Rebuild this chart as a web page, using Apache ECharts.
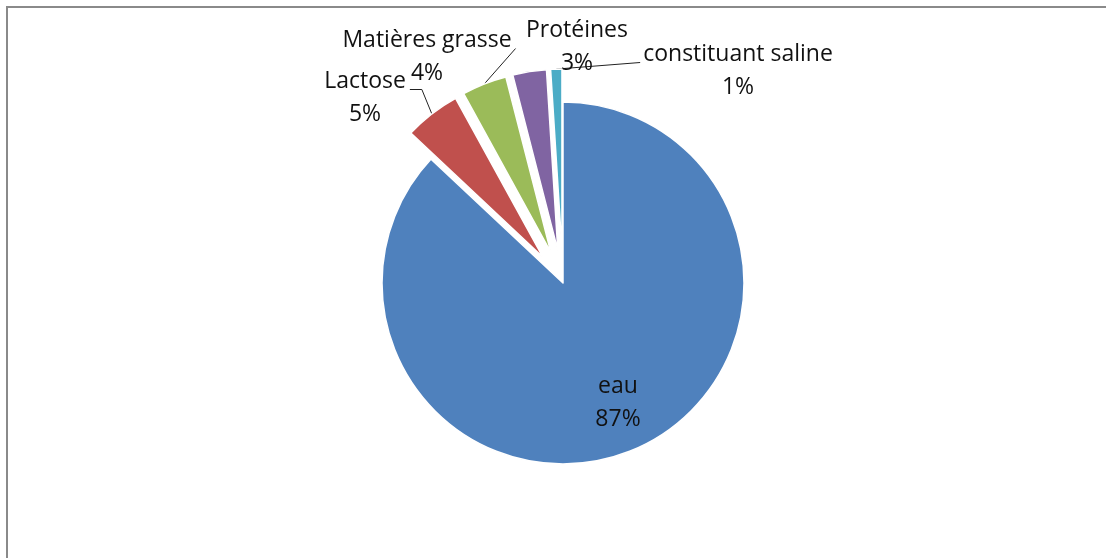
<!DOCTYPE html>
<html>
<head>
<meta charset="utf-8">
<title>Composition du lait</title>
<script src="https://cdn.jsdelivr.net/npm/echarts@6/dist/echarts.min.js"></script>
<style>
  html, body { margin: 0; padding: 0; background: #fff; }
  #chart { position: absolute; left: 0; top: 0; width: 1106px; height: 558px; }
  #frame { position: absolute; left: 6px; top: 6px; right: -10px; bottom: -10px;
           border-left: 2px solid #8a8a8a; border-top: 2px solid #8a8a8a; pointer-events: none; }
</style>
</head>
<body>
<div id="chart"></div>
<div id="frame"></div>
<script>
// Composants du lait (en %)
const categories = ['eau', 'Lactose', 'Matières grasse', 'Protéines', 'constituant saline'];
const values = [87, 5, 4, 3, 1];
const colors = ['#4F81BD', '#C0504D', '#9BBB59', '#8064A2', '#4BACC6'];
// Slices pulled out from the centre
const exploded = [false, true, true, true, true];
// Label anchor points (centre of each two-line label)
const labelSpots = [[618, 403], [365, 98], [427, 57], [577, 47], [738, 71]];
const showLeader = [false, true, true, false, true];
// Horizontal run of the leader line under the label's first line (0 = straight line)
const leaderRun = [0, 12, 0, 0, 0];

const CENTER = [563, 283];
const RADIUS = 181;
const PULL = 33;
const LINE_H = 33;

const chart = echarts.init(document.getElementById('chart'), null, { renderer: 'canvas' });

// Visible slices, small ones pulled out
const sliceData = categories.map((name, i) => ({
  name: name,
  value: values[i],
  selected: exploded[i],
  itemStyle: { color: colors[i] }
}));

// Transparent twin ring reaching the outer edge of the pulled slices; carries the labels
const labelData = categories.map((name, i) => ({
  name: name,
  value: values[i],
  labelLine: { show: showLeader[i] }
}));

chart.setOption({
  animation: false,
  series: [{
    type: 'pie',
    center: CENTER,
    radius: [0, RADIUS],
    startAngle: 90,
    clockwise: true,
    selectedMode: 'multiple',
    selectedOffset: PULL,
    data: sliceData,
    itemStyle: { borderColor: '#ffffff', borderWidth: 1.5 },
    emphasis: { scale: false },
    label: { show: false },
    labelLine: { show: false }
  }, {
    type: 'pie',
    center: CENTER,
    radius: [0, RADIUS + PULL],
    startAngle: 90,
    clockwise: true,
    silent: true,
    selectedMode: false,
    avoidLabelOverlap: false,
    data: labelData,
    itemStyle: { color: 'rgba(0,0,0,0)', borderWidth: 0 },
    emphasis: { disabled: true },
    label: {
      show: true,
      position: 'outside',
      formatter: '{b}\n{c}%',
      fontFamily: 'Open Sans',
      fontSize: 23,
      lineHeight: LINE_H,
      color: '#111',
      align: 'center'
    },
    labelLine: {
      show: true,
      length: 12,
      length2: 10,
      lineStyle: { color: '#222', width: 1 }
    },
    labelLayout: function (p) {
      const i = p.dataIndex;
      const s = labelSpots[i];
      const out = { x: s[0], y: s[1], align: 'center', verticalAlign: 'middle' };
      if (showLeader[i] && p.labelLinePoints) {
        const w = p.labelRect.width;
        const h = p.labelRect.height;
        const left = s[0] - w / 2;
        const right = s[0] + w / 2;
        // leader ends at the baseline of the first text line
        const baseline = s[1] - h / 2 + LINE_H / 2 + 8;
        const a = p.labelLinePoints[0];
        const endX = a[0] < left ? left - 3 : right + 4;
        const end = [endX, baseline];
        const mid = leaderRun[i] ? [endX + leaderRun[i], baseline] : end;
        out.labelLinePoints = [a, mid, end];
      }
      return out;
    }
  }]
});
</script>
</body>
</html>
